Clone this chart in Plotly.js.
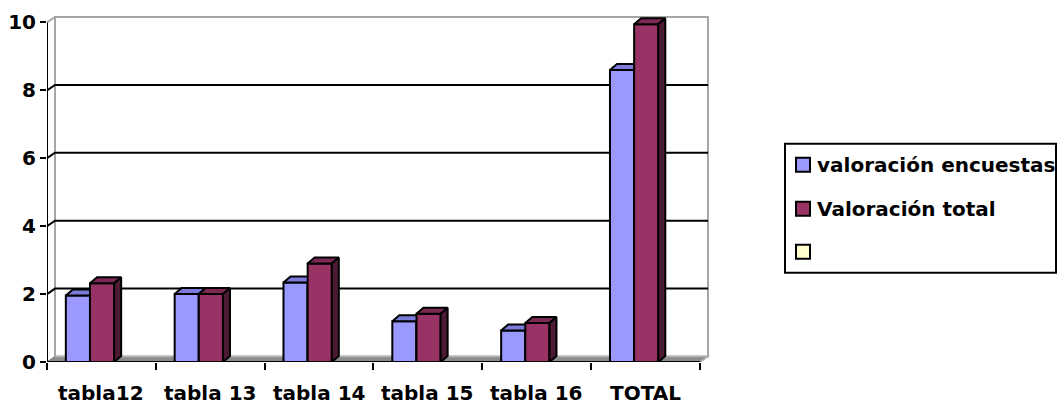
<!DOCTYPE html>
<html>
<head>
<meta charset="utf-8">
<script src="https://cdn.plot.ly/plotly-3.0.1.min.js"></script>
<style>html,body{margin:0;padding:0;background:#fff;}</style>
</head>
<body>
<div id="chart" style="width:1057px;height:406px"></div>
<script>
// Chart data
const categories = ['tabla12', 'tabla 13', 'tabla 14', 'tabla 15', 'tabla 16', 'TOTAL'];
const valoracionEncuestas = [1.96, 2.0, 2.34, 1.2, 0.93, 8.6];
const valoracionTotal = [2.32, 2.0, 2.9, 1.42, 1.15, 9.95];
const serieVacia = [null, null, null, null, null, null];
const seriesNames = ['valoración encuestas', 'Valoración total', ''];
const yTickVals = [0, 2, 4, 6, 8, 10];

// Page geometry
const W = 1057, H = 406;
const M = {l: 47, r: 345, t: 12, b: 43.5};
const plotW = W - M.l - M.r, plotH = H - M.t - M.b;
const PXX = 108.83;               // pixels per category
const PXY = 34;                   // pixels per value unit
const xRange = [-0.5, -0.5 + plotW / PXX];
const yRange = [0, plotH / PXY];
const xFirst = -0.5, xLast = categories.length - 0.5;

// 3D depth of the walls and of the columns
const wallDX = 8 / PXX, wallDY = 5.5 / PXY;
const barDX = 7 / PXX, barDY = 6 / PXY;
const barW = 0.222;
const offsets = [-0.327, -0.105];

const faceColors = [
  {front: '#9999FF', top: '#7B7BDA', side: '#5A5AAE'},
  {front: '#993366', top: '#7C2A54', side: '#4D1A33'},
  {front: '#FFFFCC', top: '#E0E0A8', side: '#B0B080'}
];
const seriesValues = [valoracionEncuestas, valoracionTotal, serieVacia];

function poly(xs, ys, fill) {
  return {
    type: 'scatter', mode: 'lines', x: xs.concat([xs[0]]), y: ys.concat([ys[0]]),
    fill: 'toself', fillcolor: fill, line: {color: '#000', width: 2},
    hoverinfo: 'skip', showlegend: false
  };
}

// Each column: front face, top face, right side face
const traces = [];
categories.forEach((c, i) => {
  seriesValues.forEach((vals, s) => {
    const v = vals[i];
    if (v === null || v === undefined) return;
    const x0 = i + offsets[s], x1 = x0 + barW;
    const col = faceColors[s];
    traces.push(poly([x0, x0, x1, x1], [0, v, v, 0], col.front));
    traces.push(poly([x0, x0 + barDX, x1 + barDX, x1], [v, v + barDY, v + barDY, v], col.top));
    traces.push(poly([x1, x1, x1 + barDX, x1 + barDX], [0, v, v + barDY, barDY], col.side));
  });
});

// Walls, floor, gridlines and front axes
const bx0 = xFirst + wallDX, bx1 = xLast + wallDX;
const shapes = [];
shapes.push({type: 'path', layer: 'below', xref: 'x', yref: 'y',
  path: `M${bx0},${wallDY} L${bx0},${10 + wallDY} L${bx1},${10 + wallDY} L${bx1},${wallDY} Z`,
  fillcolor: '#ffffff', line: {color: '#A6A6A6', width: 2}});
shapes.push({type: 'path', layer: 'below', xref: 'x', yref: 'y',
  path: `M${xFirst},10 L${bx0},${10 + wallDY}`, line: {color: '#A6A6A6', width: 2}});
yTickVals.filter(t => t > 0 && t < 10).forEach(t => {
  shapes.push({type: 'path', layer: 'below', xref: 'x', yref: 'y',
    path: `M${xFirst},${t} L${bx0},${t + wallDY} L${bx1},${t + wallDY}`,
    line: {color: '#000', width: 2}});
});
shapes.push({type: 'path', layer: 'below', xref: 'x', yref: 'y',
  path: `M${xFirst},0 L${bx0},${wallDY} L${bx1},${wallDY} L${xLast},0 Z`,
  fillcolor: '#8C8C8C', line: {color: '#6E6E6E', width: 1}});
shapes.push({type: 'path', layer: 'below', xref: 'x', yref: 'y',
  path: `M${bx0},${wallDY} L${bx1},${wallDY} L${xLast},0`,
  line: {color: '#B4B4B4', width: 1.5}});
shapes.push({type: 'path', layer: 'below', xref: 'x', yref: 'y',
  path: `M${xFirst},10 L${xFirst},0 L${xLast},0`, line: {color: '#000', width: 2}});

const FONT = 'DejaVu Sans';
const px = p => (p - M.l) / plotW;
const py = p => (H - M.b - p) / plotH;
const annotations = [];

// Category labels, centred in each slot
categories.forEach((c, i) => {
  annotations.push({xref: 'x', yref: 'paper', x: i, y: py(394), xanchor: 'center',
    yanchor: 'middle', showarrow: false, text: c,
    font: {family: FONT, size: 20, weight: 'bold', color: '#000'}});
});

// Legend box
shapes.push({type: 'rect', xref: 'paper', yref: 'paper',
  x0: px(785), x1: px(1056), y0: py(144), y1: py(273),
  fillcolor: '#ffffff', line: {color: '#000', width: 2}});
const legendY = [165, 209, 252];
seriesNames.forEach((name, s) => {
  const cy = legendY[s];
  shapes.push({type: 'rect', xref: 'paper', yref: 'paper',
    x0: px(796), x1: px(810), y0: py(cy - 7), y1: py(cy + 7),
    fillcolor: faceColors[s].front, line: {color: '#000', width: 2}});
  if (name) {
    annotations.push({xref: 'paper', yref: 'paper', x: px(815), y: py(cy),
      xanchor: 'left', yanchor: 'middle', showarrow: false, text: name,
      font: {family: FONT, size: 20, weight: 'bold', color: '#000'}});
  }
});

const tickFont = {family: FONT, size: 20, weight: 'bold', color: '#000'};
const xTickVals = categories.map((c, i) => i - 0.5).concat([xLast]);

const layout = {
  width: W, height: H, margin: M, showlegend: false,
  paper_bgcolor: '#fff', plot_bgcolor: 'rgba(0,0,0,0)',
  xaxis: {range: xRange, tickvals: xTickVals, showticklabels: false,
    ticks: 'outside', ticklen: 7, tickwidth: 2, tickcolor: '#000',
    showgrid: false, zeroline: false, showline: false, fixedrange: true},
  yaxis: {range: yRange, tickvals: yTickVals, ticks: 'outside', ticklen: 6,
    tickwidth: 2, tickcolor: '#000', showgrid: false, zeroline: false, showline: false,
    tickfont: tickFont, fixedrange: true},
  shapes: shapes, annotations: annotations
};

Plotly.newPlot('chart', traces, layout, {staticPlot: true});
</script>
</body>
</html>
